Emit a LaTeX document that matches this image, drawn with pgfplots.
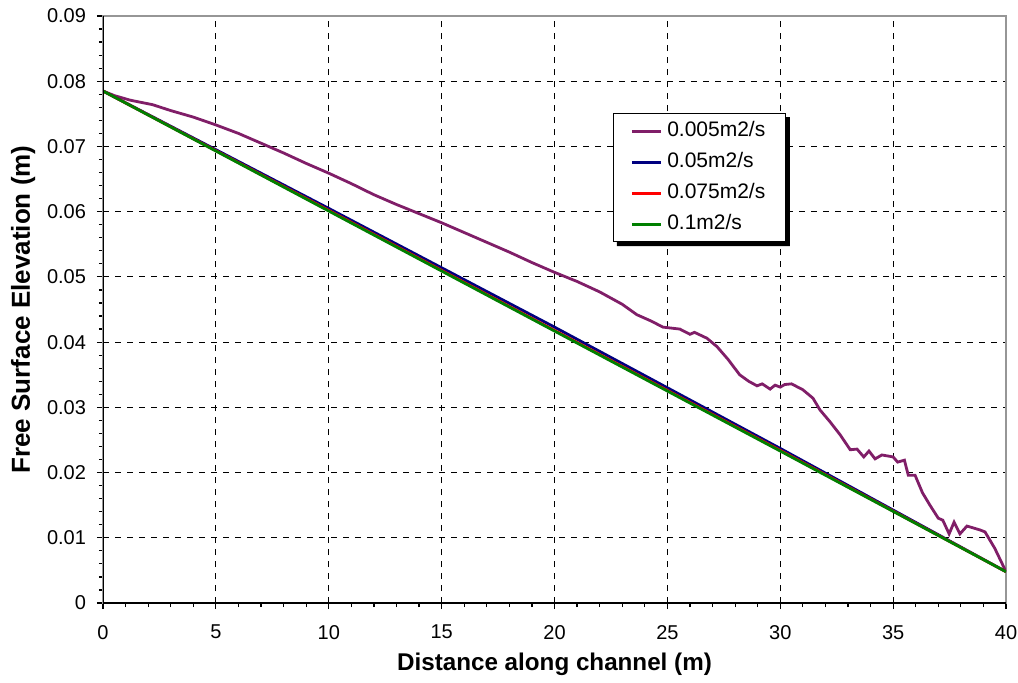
\documentclass[border=0pt]{standalone}
\usepackage{pgfplots}
\pgfplotsset{compat=1.18}
\usepackage{fontspec}
\setmainfont{Liberation Sans}

\definecolor{plum}{RGB}{128,30,104}
\definecolor{navy}{RGB}{0,0,128}
\definecolor{exred}{RGB}{255,0,0}
\definecolor{exgreen}{RGB}{0,128,0}
\definecolor{bordergray}{RGB}{150,150,150}

\begin{document}
\begin{tikzpicture}
\begin{axis}[
    name=ax,
    scale only axis,
    width=451.5pt, height=293.5pt,
    xmin=0, xmax=40, ymin=0, ymax=0.09,
    xtick={0,5,...,40},
    ytick={0,0.01,...,0.09},
    minor x tick num=4,
    minor y tick num=4,
    xtick pos=left, ytick pos=left,
    tick align=outside,
    major tick length=3pt,
    minor tick length=2pt,
    tick style={black, line width=0.6pt},
    axis line style={bordergray, line width=0.6pt},
    grid=major,
    major grid style={black, dash pattern=on 3pt off 3pt, line width=0.5pt},
    scaled y ticks=false,
    yticklabel style={/pgf/number format/fixed, /pgf/number format/precision=2},
    /pgf/number format/assume math mode=true,
    ticklabel style={font=\fontsize{10}{12}\selectfont},
    xticklabel style={yshift=-4.5pt},
    yticklabel style={xshift=-2pt},
    xlabel={\textbf{Distance along channel (m)}},
    ylabel={\textbf{Free Surface Elevation (m)}},
    xlabel style={font=\fontsize{12.1}{14}\selectfont, yshift=0pt},
    ylabel style={font=\fontsize{13}{15}\selectfont, yshift=-1pt},
    legend style={name=leg, at={(axis cs:22.59,0.0751)}, anchor=north west,
        draw=black, fill=white, line width=0.5pt,
        font=\fontsize{10.5}{12}\selectfont,
        cells={anchor=west}, row sep=2pt, column sep=1pt,
        inner xsep=8.5pt, inner ysep=2pt,
        nodes={inner sep=1.5pt, text height=8pt, text depth=2.5pt}},
    legend image code/.code={\draw[#1] (0pt,0pt) -- (14.5pt,0pt);},
]
\addplot[plum, line width=1.4pt] coordinates {
(0,0.0785) (0.5,0.0778) (1.2,0.0771) (2.2,0.0764) (3,0.0755) (4,0.0745)
(5,0.0733) (6,0.0720) (7,0.0705) (8,0.0690) (9,0.0674) (10,0.0659)
(11,0.0643) (12,0.0626) (13,0.0611) (14,0.0597) (15,0.0583) (16,0.0568)
(17,0.0553) (18,0.0538) (19,0.0522) (20,0.0507) (21,0.0493) (22,0.0477)
(23,0.0458) (23.65,0.0442) (24.3,0.0432) (24.8,0.0423) (25.55,0.0420)
(26.0,0.0412) (26.2,0.0415) (26.75,0.0406) (27.2,0.0393) (27.7,0.0373)
(28.2,0.0350) (28.6,0.0340) (28.97,0.0333) (29.2,0.0336) (29.55,0.0328)
(29.77,0.0334) (30.0,0.0331) (30.2,0.0335) (30.5,0.0336) (31.0,0.0327)
(31.45,0.0314) (31.76,0.0296) (32.2,0.0278) (32.65,0.0258) (33.1,0.0235)
(33.4,0.0236) (33.7,0.0224) (33.93,0.0233) (34.2,0.0221) (34.5,0.0227)
(35.0,0.0224) (35.2,0.0216) (35.5,0.0219) (35.67,0.0196) (35.97,0.0196)
(36.3,0.0169) (36.63,0.0150) (37.0,0.0130) (37.2,0.0127) (37.48,0.0106)
(37.7,0.0124) (37.96,0.0106) (38.27,0.0118) (38.85,0.0112) (39.07,0.0109)
(39.5,0.0084) (40,0.0048)
};
\addlegendentry{0.005m2/s}
\addplot[navy, line width=1.4pt] coordinates {
(0,0.0785) (10,0.0605) (20,0.0423) (30,0.0237) (40,0.0048)
};
\addlegendentry{0.05m2/s}
\addplot[exred, line width=1.4pt] coordinates {
(0,0.0785) (10,0.0602) (20,0.0418) (30,0.0234) (40,0.0048)
};
\addlegendentry{0.075m2/s}
\addplot[exgreen, line width=1.4pt] coordinates {
(0,0.0785) (10,0.0601) (20,0.0417) (30,0.0233) (40,0.0048)
};
\addlegendentry{0.1m2/s}
\draw[black, line width=0.7pt] (rel axis cs:0,1) -- (rel axis cs:0,0) -- (rel axis cs:1,0);
\end{axis}
% drop shadow of the legend box
\fill[black] ([xshift=2pt]leg.south west) -- ([xshift=2pt,yshift=-2pt]leg.south west)
  -- ([xshift=2pt,yshift=-2pt]leg.south east) -- ([xshift=2pt,yshift=-2pt]leg.north east)
  -- ([yshift=-2pt]leg.north east) -- (leg.south east) -- cycle;
\pgfresetboundingbox
\path ([shift={(-51.5pt,-39.5pt)}]ax.south west) rectangle ([shift={(6pt,8pt)}]ax.north east);
\end{tikzpicture}
\end{document}
